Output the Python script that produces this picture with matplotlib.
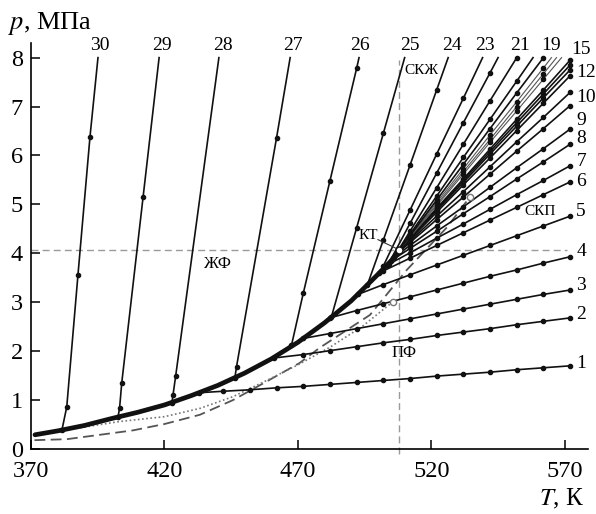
import numpy as np
import matplotlib.pyplot as plt

plt.rcParams['font.family'] = ['Liberation Serif', 'DejaVu Serif']
plt.rcParams['mathtext.fontset'] = 'stix'

# saturation curve
T_sat = [371.5, 380, 390, 400, 410, 420, 430, 440, 450, 460, 470, 480, 490, 500, 505, 508]
p_sat = [0.29, 0.37, 0.48, 0.62, 0.75, 0.90, 1.09, 1.30, 1.55, 1.84, 2.18, 2.58, 3.03, 3.57, 3.85, 4.07]

# isochores (T, K ; p, MPa)
iso1 = ([433, 442, 452, 462, 472, 482, 492, 502, 512, 522, 532, 542, 552, 562, 572],
        [1.15, 1.18, 1.21, 1.25, 1.28, 1.32, 1.36, 1.40, 1.44, 1.49, 1.53, 1.57, 1.62, 1.66, 1.70])
iso2 = ([461, 472, 482, 492, 502, 512, 522, 532, 542, 552, 562, 572],
        [1.86, 1.93, 2.01, 2.09, 2.17, 2.24, 2.32, 2.39, 2.46, 2.54, 2.61, 2.68])
iso3 = ([472, 482, 492, 502, 512, 522, 532, 542, 552, 562, 572],
        [2.26, 2.36, 2.46, 2.56, 2.66, 2.76, 2.86, 2.96, 3.06, 3.16, 3.25])
iso4 = ([482, 492, 502, 512, 522, 532, 542, 552, 562, 572],
        [2.68, 2.83, 2.97, 3.11, 3.25, 3.39, 3.53, 3.66, 3.80, 3.93])
iso5 = ([492.5, 502, 512, 522, 532, 542, 552, 562, 572],
        [3.16, 3.36, 3.56, 3.76, 3.96, 4.16, 4.36, 4.56, 4.76])
iso6 = ([500.5, 502, 512, 522, 532, 542, 552, 562, 572],
        [3.60, 3.64, 3.90, 4.16, 4.42, 4.68, 4.94, 5.20, 5.46])
iso7 = ([503.5, 512, 522, 532, 542, 552, 562, 572],
        [3.76, 4.01, 4.31, 4.60, 4.90, 5.20, 5.49, 5.79])
iso8 = ([505, 512, 522, 532, 542, 552, 562, 572],
        [3.85, 4.10, 4.45, 4.81, 5.16, 5.52, 5.87, 6.23])
iso9 = ([506, 512, 522, 532, 542, 552, 562, 572],
        [3.92, 4.16, 4.56, 4.95, 5.35, 5.75, 6.14, 6.54])
iso10 = ([506.8, 512, 522, 532, 542, 552, 562, 572],
         [3.98, 4.22, 4.69, 5.15, 5.62, 6.09, 6.55, 7.02])
iso11 = ([507.3, 512, 522, 532, 542, 552, 562, 572],
         [4.01, 4.25, 4.76, 5.26, 5.77, 6.28, 6.78, 7.29])
iso12 = ([507.7, 512, 522, 532, 542, 552, 562, 572],
         [4.04, 4.28, 4.84, 5.40, 5.95, 6.51, 7.07, 7.63])
iso13 = ([508, 512, 522, 532, 542, 552, 562, 572],
         [4.07, 4.30, 4.88, 5.45, 6.03, 6.60, 7.18, 7.75])
iso14 = ([508, 512, 522, 532, 542, 552, 562, 572],
         [4.07, 4.31, 4.90, 5.49, 6.08, 6.67, 7.26, 7.85])
iso15 = ([508, 512, 522, 532, 542, 552, 562, 572],
         [4.07, 4.31, 4.92, 5.52, 6.13, 6.74, 7.34, 7.95])
iso16 = ([508, 512, 522, 532, 542, 552, 562, 568.8],
         [4.07, 4.33, 4.97, 5.62, 6.27, 6.91, 7.56, 8.0])
iso17 = ([508, 512, 522, 532, 542, 552, 562, 566.9],
         [4.07, 4.34, 5.00, 5.67, 6.33, 7.00, 7.67, 8.0])
iso18 = ([508, 512, 522, 532, 542, 552, 562, 565],
         [4.07, 4.35, 5.04, 5.73, 6.42, 7.10, 7.79, 8.0])
iso19 = ([507.5, 512, 522, 532, 542, 552, 562],
         [4.03, 4.36, 5.09, 5.82, 6.55, 7.28, 8.0])
iso20 = ([507, 512, 522, 532, 542, 552, 558.1],
         [4.00, 4.39, 5.17, 5.96, 6.74, 7.52, 8.0])
iso21 = ([506, 512, 522, 532, 542, 552],
         [3.92, 4.45, 5.34, 6.23, 7.12, 8.0])
iso22 = ([504, 512, 522, 532, 542, 545],
         [3.79, 4.61, 5.64, 6.67, 7.69, 8.0])
iso23 = ([501, 502, 512, 522, 532, 539.2],
         [3.63, 3.74, 4.88, 6.03, 7.17, 8.0])
iso24 = ([496, 502, 512, 522, 526.3],
         [3.35, 4.27, 5.80, 7.34, 8.0])
iso25 = ([482.5, 492, 502, 510],
         [2.69, 4.52, 6.45, 8.0])
iso26 = ([467.6, 472, 482, 492, 492.9],
         [2.12, 3.18, 5.48, 7.78, 8.0])
iso27 = ([446.4, 447, 462, 467.1],
         [1.46, 1.68, 6.36, 8.0])
iso28 = ([422.8, 423.2, 424.2, 440.4],
         [0.95, 1.10, 1.49, 8.0])
iso29 = ([402.6, 403.2, 404.0, 412, 418],
         [0.65, 0.84, 1.35, 5.15, 8.0])
iso30 = ([381.6, 383.4, 387.6, 392.1, 395.1],
         [0.39, 0.86, 3.56, 6.38, 8.0])

isochores = [iso1, iso2, iso3, iso4, iso5, iso6, iso7, iso8, iso9, iso10,
             iso11, iso12, iso13, iso14, iso15, iso16, iso17, iso18, iso19, iso20,
             iso21, iso22, iso23, iso24, iso25, iso26, iso27, iso28, iso29, iso30]

# dashed and dotted boundary curves
T_dash = [371.3, 383.4, 395.8, 408.2, 420, 433.3, 445.7, 458.3, 470.7, 478.2, 497, 510.8, 526, 534.4]
p_dash = [0.18, 0.20, 0.29, 0.38, 0.51, 0.70, 1.00, 1.38, 1.76, 2.07, 2.74, 3.66, 4.54, 5.15]
T_dot = [373, 388, 403, 420, 433.3, 445.7, 458.3, 470, 482, 494, 505.6]
p_dot = [0.30, 0.43, 0.56, 0.66, 0.83, 1.07, 1.40, 1.72, 2.08, 2.50, 3.01]

T_crit = 508.0
p_crit = 4.07

right_labels = ['1', '2', '3', '4', '5', '6', '7', '8', '9', '10', '12']
right_label_p = [1.75, 2.74, 3.35, 4.03, 4.85, 5.47, 5.88, 6.35, 6.71, 7.18, 7.69]
top_labels = ['30', '29', '28', '27', '26', '25', '24', '23', '21', '19']
top_label_T = [395.8, 419, 441.8, 468, 493.2, 512, 527.6, 540, 553.1, 565]

fig = plt.figure(figsize=(5.96, 5.14), dpi=100)
ax = fig.add_axes([0.052, 0.1265, 0.9346, 0.7899])

# reference dashed lines through the critical point
ax.plot([T_crit, T_crit], [-0.1, 7.95], color='#9a9a9a', lw=1.0, ls=(0, (5, 3)), clip_on=False, zorder=1)
ax.plot([370, 571], [p_crit, p_crit], color='#9a9a9a', lw=1.0, ls=(0, (5, 3)), zorder=1)

for i, (T, p) in enumerate(isochores):
    n = i + 1
    col = '#111111'
    lw = 1.2
    if n in (16, 17, 18):
        col = '#555555'
        lw = 0.8
    ax.plot(T, p, color=col, lw=lw, zorder=3)
    mk = [k for k in range(len(T)) if not (p[k] == 8.0 and abs((T[k] - 372) % 10) > 0.5)]
    ax.plot([T[k] for k in mk], [p[k] for k in mk], 'o', color='#111111', ms=3, zorder=4)

ax.plot(T_sat, p_sat, color='#111111', lw=3.4, solid_capstyle='round', zorder=5)
ax.plot(T_dash, p_dash, color='#555555', lw=1.3, ls=(0, (6, 3)), zorder=2)
ax.plot(T_dot, p_dot, color='#777777', lw=1.2, ls=(0, (1, 1.5)), zorder=2)
ax.plot(T_dash[-1], p_dash[-1], 'o', mfc='white', mec='#777777', ms=4.5, zorder=6)
ax.plot(T_dot[-1], p_dot[-1], 'o', mfc='white', mec='#777777', ms=4.5, zorder=6)

# critical point
ax.plot([500, T_crit], [4.28, p_crit], color='#333333', lw=0.8, zorder=6)
ax.plot(T_crit, p_crit, 'o', mfc='white', mec='#111111', ms=5, zorder=7)

for lab, pp in zip(right_labels, right_label_p):
    ax.text(574.3, pp, lab, fontsize=14, ha='left', va='center')
for lab, tt in zip(top_labels, top_label_T):
    ax.text(tt, 8.24, lab, fontsize=14, ha='center', va='center')
ax.text(572.3, 8.16, '15', fontsize=14, ha='left', va='center')

ax.text(516.3, 7.74, 'СКЖ', fontsize=11, ha='center', va='center')
ax.text(560.6, 4.85, 'СКП', fontsize=11, ha='center', va='center')
ax.text(496.2, 4.36, 'КТ', fontsize=11, ha='center', va='center')
ax.text(439.7, 3.78, 'ЖФ', fontsize=12, ha='center', va='center')
ax.text(509.7, 1.96, 'ПФ', fontsize=12, ha='center', va='center')

ax.set_xlim(370, 578.7)
ax.set_ylim(0, 8.3)
ax.set_xticks([370, 420, 470, 520, 570])
ax.set_yticks(range(0, 9))
ax.spines['top'].set_visible(False)
ax.spines['right'].set_visible(False)
for s in ('left', 'bottom'):
    ax.spines[s].set_linewidth(1.2)
ax.tick_params(direction='in', length=6.5, width=1.1, labelsize=17.5)
ax.tick_params(axis='x', pad=9)
ax.tick_params(axis='y', pad=6)

fig.text(8 / 596, 1 - 29 / 514, '$p$, МПа', fontsize=19, ha='left', va='baseline')
fig.text(584 / 596, 1 - 505 / 514, '$T$, К', fontsize=18, ha='right', va='baseline')

fig.savefig('out.png', dpi=100)
